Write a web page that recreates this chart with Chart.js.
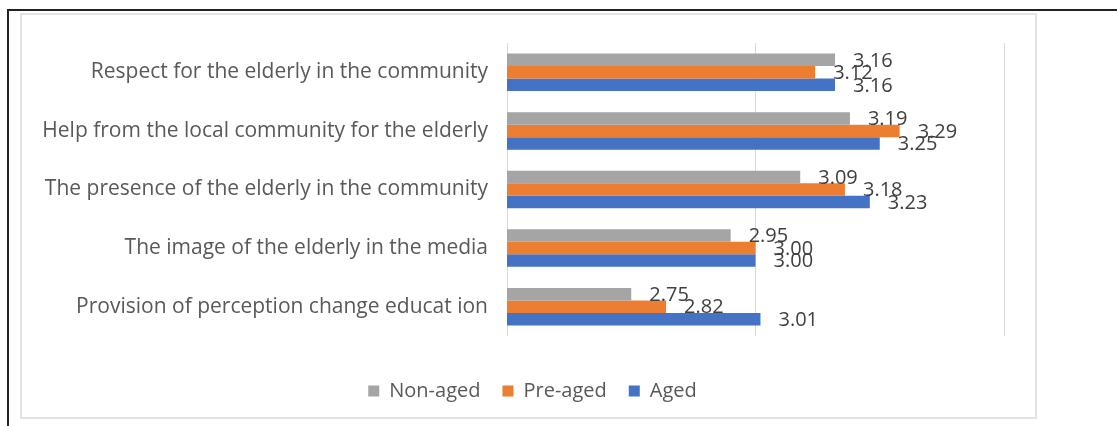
<!DOCTYPE html>
<html>
<head>
<meta charset="utf-8">
<script src="https://cdn.jsdelivr.net/npm/chart.js@4/dist/chart.umd.min.js"></script>
<style>
    html, body { margin: 0; padding: 0; background: #fff; }
    #wrap { position: relative; width: 1117px; height: 426px; overflow: hidden; }
    #outer { position: absolute; left: 7px; top: 9px; width: 1120px; height: 430px; border-top: 2px solid #222; border-left: 2px solid #222; }
    #frame { position: absolute; left: 20px; top: 13px; width: 1013px; height: 402px; border: 2px solid #e3e3e3; }
    canvas { position: absolute; left: 0; top: 0; }
</style>
</head>
<body>
<div id="wrap">
    <div id="outer"></div>
    <div id="frame"></div>
    <canvas id="chart" width="1117" height="426"></canvas>
</div>
<script>
    const categories = [
        'Respect for the elderly in the community',
        'Help from the local community for the elderly',
        'The presence of the elderly in the community',
        'The image of the elderly in the media',
        'Provision of perception change educat ion'
    ];
    const seriesNames = ['Non-aged', 'Pre-aged', 'Aged'];
    const nonAged = [3.16, 3.19, 3.09, 2.95, 2.75];
    const preAged = [3.12, 3.29, 3.18, 3.00, 2.82];
    const aged = [3.16, 3.25, 3.23, 3.00, 3.01];
    const seriesColors = ['#a5a5a5', '#ed7d31', '#4472c4'];

    const fontFamily = '"Open Sans", "Noto Sans", sans-serif';

    // value text just past the end of every bar
    const valueLabels = {
        id: 'valueLabels',
        afterDatasetsDraw(chart) {
            const ctx = chart.ctx;
            ctx.save();
            ctx.font = '20px ' + fontFamily;
            ctx.fillStyle = '#404040';
            ctx.textAlign = 'left';
            ctx.textBaseline = 'middle';
            chart.data.datasets.forEach((ds, di) => {
                chart.getDatasetMeta(di).data.forEach((bar, i) => {
                    ctx.fillText(ds.data[i].toFixed(2), bar.x + 18, bar.y + 1);
                });
            });
            ctx.restore();
        }
    };

    new Chart(document.getElementById('chart'), {
        type: 'bar',
        data: {
            labels: categories,
            datasets: [nonAged, preAged, aged].map((vals, i) => ({
                label: seriesNames[i],
                data: vals,
                backgroundColor: seriesColors[i],
                categoryPercentage: 0.64,
                barPercentage: 1.0
            }))
        },
        options: {
            indexAxis: 'y',
            responsive: false,
            animation: false,
            layout: { padding: { left: 21, right: 73, top: 43, bottom: 15 } },
            scales: {
                x: {
                    min: 2.5,
                    max: 3.5,
                    ticks: { display: false, stepSize: 0.5 },
                    grid: { color: '#d9d9d9', drawTicks: false, lineWidth: 1 },
                    border: { display: false },
                    afterFit(scale) { scale.height = 23; }
                },
                y: {
                    grid: { display: false },
                    border: { display: false },
                    ticks: {
                        color: '#595959',
                        padding: 11,
                        font: { family: fontFamily, size: 21 }
                    },
                    afterFit(scale) { scale.width = 486; }
                },
                // empty strip on the right so the plot ends before the legend's centre line
                yRight: {
                    axis: 'y',
                    position: 'right',
                    grid: { display: false },
                    border: { display: false },
                    ticks: { display: false },
                    afterFit(scale) { scale.width = 40; }
                }
            },
            plugins: {
                tooltip: { enabled: false },
                legend: {
                    position: 'bottom',
                    labels: {
                        color: '#595959',
                        boxWidth: 11,
                        boxHeight: 11,
                        padding: 22,
                        font: { family: fontFamily, size: 20 }
                    }
                }
            }
        },
        plugins: [valueLabels]
    });
</script>
</body>
</html>
